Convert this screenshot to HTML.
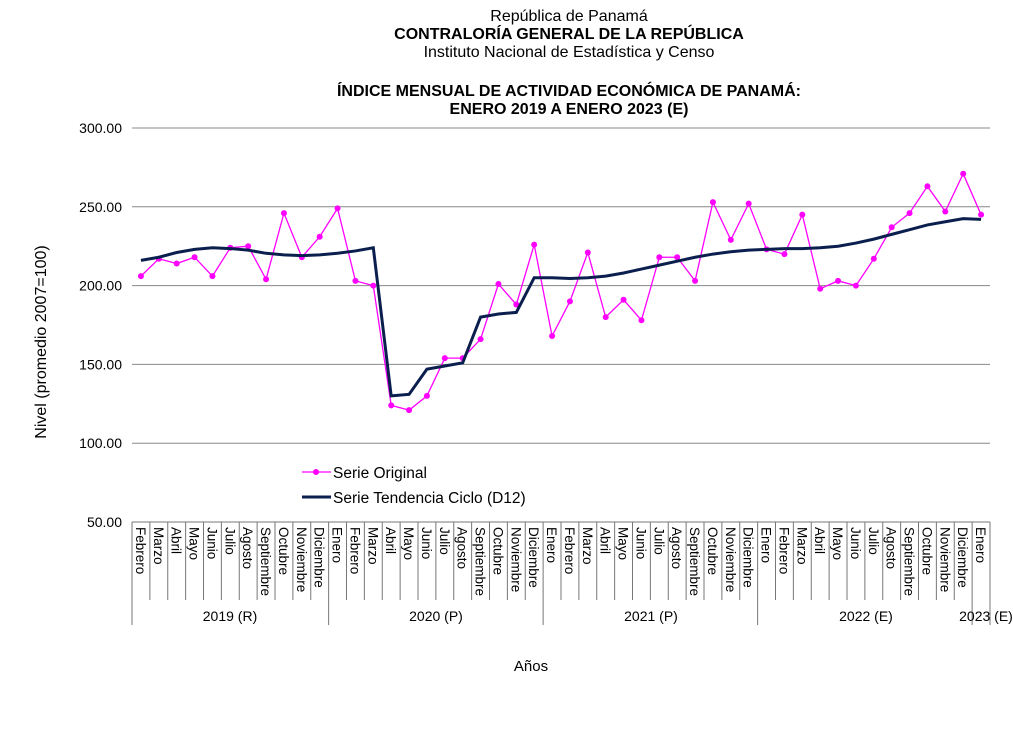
<!DOCTYPE html>
<html><head><meta charset="utf-8"><style>
body{margin:0;background:#fff;width:1013px;height:737px;overflow:hidden}
svg{font-family:"Liberation Sans",Arial,sans-serif}
</style></head><body>
<svg id="s" width="1013" height="737" xmlns="http://www.w3.org/2000/svg">
<text x="569" y="21" font-size="16" text-anchor="middle">República de Panamá</text>
<text x="569" y="39" font-size="16" font-weight="bold" text-anchor="middle">CONTRALORÍA GENERAL DE LA REPÚBLICA</text>
<text x="569" y="57" font-size="16" text-anchor="middle">Instituto Nacional de Estadística y Censo</text>
<text x="569" y="96" font-size="16" font-weight="bold" text-anchor="middle">ÍNDICE MENSUAL DE ACTIVIDAD ECONÓMICA DE PANAMÁ:</text>
<text x="569" y="114" font-size="16" font-weight="bold" text-anchor="middle">ENERO 2019 A ENERO 2023 (E)</text>
<text transform="translate(46,342) rotate(-90)" font-size="16" text-anchor="middle">Nivel (promedio 2007=100)</text>
<text x="531" y="671" font-size="15" text-anchor="middle">Años</text>
<g id="g"></g>
</svg>
<script>
const g=document.getElementById('g');let h='';
const X0=132,X1=990,W=(X1-X0)/48;
const Y=v=>522-(v-50)*394/250;
[300,250,200,150,100].forEach(v=>{h+=`<line x1="${X0}" x2="${X1}" y1="${Y(v)}" y2="${Y(v)}" stroke="#888" stroke-width="1"/>`;});
[300,250,200,150,100,50].forEach(v=>{h+=`<text x="122" y="${Y(v)+5}" font-size="14" text-anchor="end">${v.toFixed(2)}</text>`;});
h+=`<line x1="${X0}" x2="${X1}" y1="522" y2="522" stroke="#777"/>`;
const m=['Enero','Febrero','Marzo','Abril','Mayo','Junio','Julio','Agosto','Septiembre','Octubre','Noviembre','Diciembre'];
let labs=m.slice(1).concat(m,m,m,['Enero']);
for(let i=0;i<=48;i++){const x=X0+i*W;const yr=[0,11,23,35,47,48].includes(i);
h+=`<line x1="${x}" x2="${x}" y1="522" y2="${yr?625:600}" stroke="#777"/>`;}
labs.forEach((l,i)=>{const x=X0+i*W+W/2-5;h+=`<text transform="translate(${x},527) rotate(90)" font-size="13.5">${l}</text>`;});
[['2019 (R)',230],['2020 (P)',436],['2021 (P)',651],['2022 (E)',866],['2023 (E)',986]].forEach(a=>{h+=`<text x="${a[1]}" y="621" font-size="14" text-anchor="middle">${a[0]}</text>`;});
const o=[206,217,214,218,206,224,225,204,246,218,231,249,203,200,124,121,130,154,154,166,201,188,226,168,190,221,180,191,178,218,218,203,253,229,252,223,220,245,198,203,200,217,237,246,263,247,271,245];
const t=[216,218,221,223,224,223.5,222.5,220.5,219.5,219,219.5,220.5,222,224,130,131,147,149,151,180,182,183,205,205,204.5,205,206,208,210.5,213,215.5,218,220,221.5,222.5,223,223.5,223.5,224,225,227,229.5,232.5,235.5,238.5,240.5,242.5,242];
const px=i=>X0+W/2+i*W;
h+=`<polyline fill="none" stroke="#ff00ff" stroke-width="1.3" points="${o.map((v,i)=>px(i)+','+Y(v)).join(' ')}"/>`;
o.forEach((v,i)=>{h+=`<circle cx="${px(i)}" cy="${Y(v)}" r="3" fill="#ff00ff"/>`;});
h+=`<polyline fill="none" stroke="#0b1f4f" stroke-width="3" points="${t.map((v,i)=>px(i)+','+Y(v)).join(' ')}"/>`;
h+=`<line x1="302" x2="331" y1="472" y2="472" stroke="#ff00ff" stroke-width="1.3"/><circle cx="316" cy="472" r="3" fill="#ff00ff"/>`;
h+=`<text x="333" y="478" font-size="15.5">Serie Original</text>`;
h+=`<line x1="302" x2="331" y1="497" y2="497" stroke="#0b1f4f" stroke-width="3"/>`;
h+=`<text x="333" y="503" font-size="15.5">Serie Tendencia Ciclo (D12)</text>`;
g.innerHTML=h;
</script>
</body></html>
